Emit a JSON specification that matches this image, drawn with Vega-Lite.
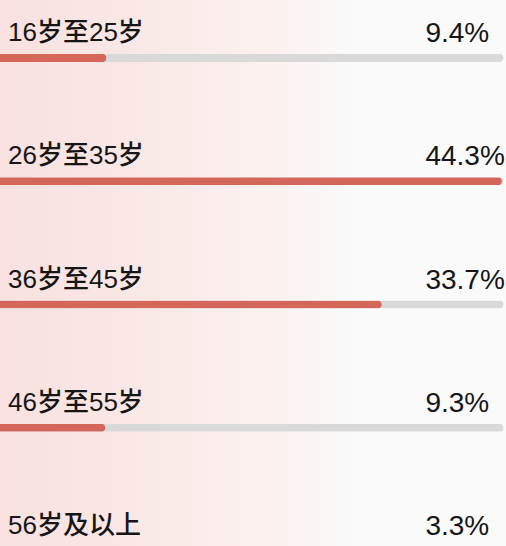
{
  "$schema": "https://vega.github.io/schema/vega-lite/v6.json",
  "width": 506,
  "height": 609,
  "autosize": "none",
  "padding": 0,
  "background": "#fafafa",
  "config": {"view": {"stroke": null}},
  "data": {
    "values": [
      {"group": "16岁至25岁", "value": 9.4, "pct": "9.4%", "max": 44.45},
      {"group": "26岁至35岁", "value": 44.3, "pct": "44.3%", "max": 44.45},
      {"group": "36岁至45岁", "value": 33.7, "pct": "33.7%", "max": 44.45},
      {"group": "46岁至55岁", "value": 9.3, "pct": "9.3%", "max": 44.45},
      {"group": "56岁及以上", "value": 3.3, "pct": "3.3%", "max": 44.45}
    ]
  },
  "layer": [
    {
      "mark": {
        "type": "rect",
        "color": {
          "gradient": "linear",
          "x1": 0, "y1": 0, "x2": 1, "y2": 0,
          "stops": [
            {"offset": 0, "color": "#f8e1df"},
            {"offset": 0.3, "color": "#fae9e7"},
            {"offset": 0.55, "color": "#fbf2f0"},
            {"offset": 0.7, "color": "#fafafa"},
            {"offset": 1, "color": "#fafafa"}
          ]
        }
      },
      "encoding": {}
    },
    {
      "mark": {"type": "bar", "color": "#d9d9d9", "size": 8, "cornerRadiusEnd": 4},
      "encoding": {
        "y": {"field": "group", "type": "nominal", "sort": null,
              "scale": {"type": "point", "padding": 0.47}, "axis": null},
        "x": {"field": "max", "type": "quantitative",
              "scale": {"domain": [0, 44.66], "nice": false, "zero": true}, "axis": null}
      }
    },
    {
      "mark": {"type": "bar", "color": "#d5675a", "size": 8, "cornerRadiusEnd": 4},
      "encoding": {
        "y": {"field": "group", "type": "nominal", "sort": null},
        "x": {"field": "value", "type": "quantitative"}
      }
    },
    {
      "mark": {"type": "text", "align": "left", "baseline": "alphabetic", "dx": 8, "dy": -17,
               "font": "Liberation Sans, Noto Sans CJK SC", "fontSize": 26, "fontWeight": 500, "color": "#161616"},
      "encoding": {
        "y": {"field": "group", "type": "nominal", "sort": null},
        "x": {"datum": 0},
        "text": {"field": "group"}
      }
    },
    {
      "mark": {"type": "text", "align": "left", "baseline": "alphabetic", "dy": -16,
               "font": "Liberation Sans, Noto Sans CJK SC", "fontSize": 28, "color": "#161616"},
      "encoding": {
        "y": {"field": "group", "type": "nominal", "sort": null},
        "x": {"datum": 37.55},
        "text": {"field": "pct"}
      }
    }
  ]
}
